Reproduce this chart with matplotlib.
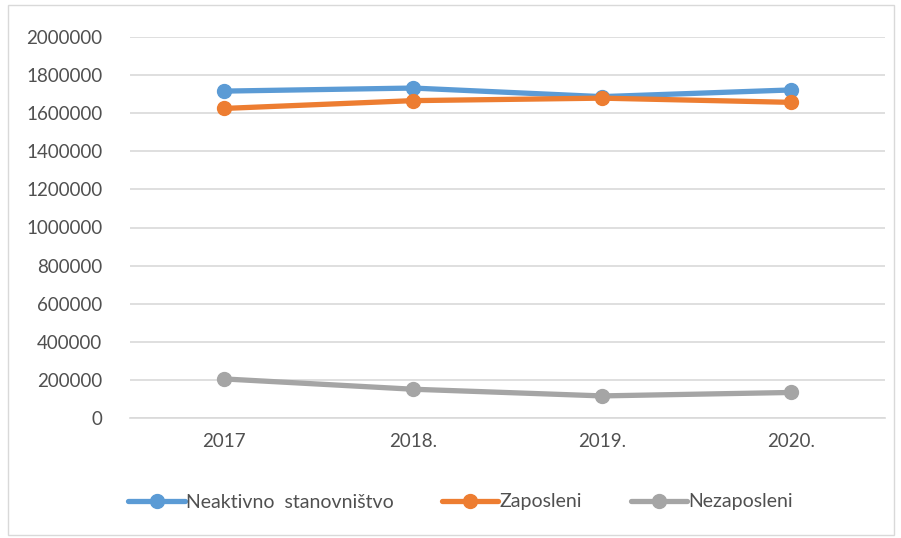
import matplotlib.pyplot as plt
from matplotlib.patches import Rectangle

# data
years = ['2017', '2018.', '2019.', '2020.']
neaktivno = [1716000, 1732000, 1687000, 1722000]
zaposleni = [1625000, 1666000, 1679000, 1657000]
nezaposleni = [205000, 151000, 116000, 134000]

labels = ['Neaktivno  stanovništvo', 'Zaposleni', 'Nezaposleni']
colors = ['#5B9BD5', '#ED7D31', '#A5A5A5']

plt.rcParams['font.family'] = ['Lato', 'DejaVu Sans']
text_col = '#505050'

fig = plt.figure(figsize=(9.01, 5.38), dpi=100)
ax = fig.add_axes([130 / 901, 1 - 418 / 538, 755 / 901, 381 / 538])

x = range(len(years))
for vals, lab, col in zip([neaktivno, zaposleni, nezaposleni], labels, colors):
    ax.plot(x, vals, color=col, lw=3.8, marker='o', markersize=10,
            label=lab, solid_capstyle='round', zorder=3)

ax.set_xlim(-0.5, len(years) - 0.5)
ax.set_ylim(0, 2000000)
ax.set_yticks(range(0, 2000001, 200000))
ax.set_yticklabels([str(v) for v in range(0, 2000001, 200000)])
ax.set_xticks(list(x))
ax.set_xticklabels(years)
ax.grid(axis='y', color='#D9D9D9', lw=1.2)
ax.set_axisbelow(True)
for s in ['top', 'right', 'left']:
    ax.spines[s].set_visible(False)
ax.spines['bottom'].set_color('#D9D9D9')
ax.spines['bottom'].set_linewidth(1.2)
ax.tick_params(axis='both', length=0, labelsize=13.5, colors=text_col)
ax.tick_params(axis='x', pad=11)
ax.tick_params(axis='y', pad=20)

leg = fig.legend(loc='center', bbox_to_anchor=(0.511, 1 - 502 / 538), ncol=3,
                 frameon=False, fontsize=14, handlelength=2.9,
                 handletextpad=0.05, columnspacing=2.5)
for t in leg.get_texts():
    t.set_color(text_col)

# outer chart border
fig.patches.append(Rectangle((8 / 901, 3 / 538), 886 / 901, 530 / 538,
                             transform=fig.transFigure, fill=False,
                             edgecolor='#D9D9D9', lw=1))

fig.savefig('out.png', dpi=100)
